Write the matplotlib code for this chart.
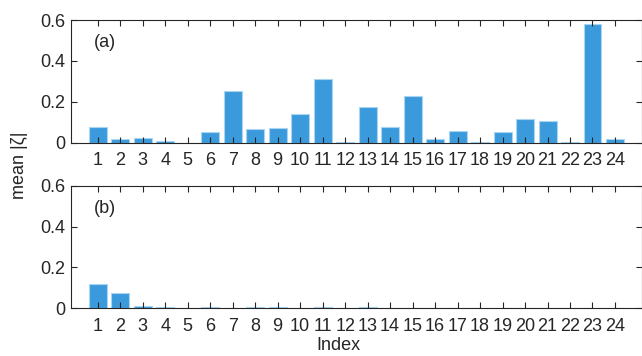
import matplotlib
matplotlib.use("Agg")
import matplotlib.pyplot as plt
import numpy as np

plt.rcParams['font.family'] = ['Liberation Sans', 'DejaVu Sans']

index = list(range(1, 25))
mean_a = [0.075, 0.016, 0.024, 0.008, 0.001, 0.052, 0.254, 0.067, 0.070, 0.140,
          0.311, 0.002, 0.176, 0.078, 0.228, 0.017, 0.057, 0.003, 0.051, 0.114,
          0.108, 0.002, 0.582, 0.018]
mean_b = [0.117, 0.075, 0.010, 0.004, 0.002, 0.004, 0.002, 0.004, 0.004, 0.001,
          0.005, 0.001, 0.004, 0.001, 0.002, 0.002, 0.002, 0.002, 0.002, 0.002,
          0.002, 0.002, 0.002, 0.002]
yticks = [0, 0.2, 0.4, 0.6]
ytick_labels = ['0', '0.2', '0.4', '0.6']
panel_labels = ['(a)', '(b)']

face = '#3B9ADB'
edge = '#A9D5F2'
spine_c = '#262626'
fs = 13

fig = plt.figure(figsize=(6.42, 3.56), dpi=100)
ax1 = fig.add_axes([0.1106, 0.599, 0.889, 0.3448])
ax2 = fig.add_axes([0.1106, 0.134, 0.889, 0.3444])

for ax, vals, lab in [(ax1, mean_a, panel_labels[0]), (ax2, mean_b, panel_labels[1])]:
    ax.bar(index, vals, width=0.8, color=face, edgecolor=edge, linewidth=0.8, zorder=1)
    ax.set_xlim(-0.19, 25.19)
    ax.set_ylim(0, 0.6)
    ax.set_xticks(index)
    ax.set_xticklabels([str(i) for i in index])
    ax.set_yticks(yticks)
    ax.set_yticklabels(ytick_labels)
    ax.tick_params(direction='in', length=4, width=0.8, color=spine_c,
                   top=True, right=True, labelsize=fs, labelcolor='#262626', pad=4)
    ax.tick_params(axis='x', pad=7)
    for s in ax.spines.values():
        s.set_color(spine_c)
        s.set_linewidth(0.8)
        s.set_zorder(3)
    ax.text(0.04, 0.815, lab, transform=ax.transAxes, fontsize=fs,
            ha='left', va='center', color='#262626')

fig.text(20/642, 1-165/356, 'mean |ζ|', rotation=90, ha='center', va='center',
         fontsize=fs, color='#262626')
fig.text(338/642, 1-345/356, 'Index', ha='center', va='center',
         fontsize=fs, color='#262626')

fig.savefig('out.png', dpi=100)
